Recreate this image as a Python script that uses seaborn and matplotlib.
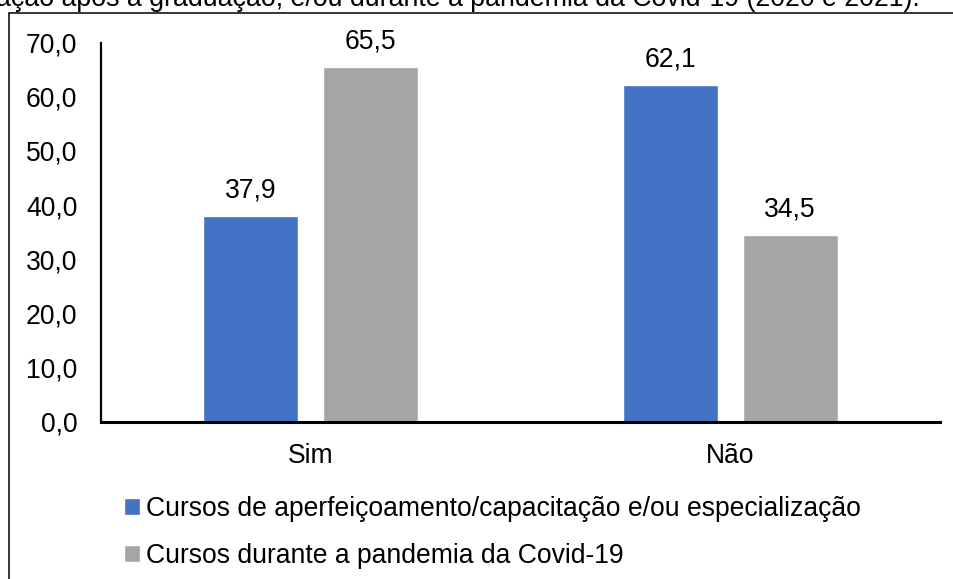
import matplotlib
matplotlib.use("Agg")
import matplotlib.pyplot as plt
import seaborn as sns
import pandas as pd
from matplotlib.lines import Line2D
from matplotlib.ticker import FuncFormatter

categories = ["Sim", "Não"]
series_names = ["Cursos de aperfeiçoamento/capacitação e/ou especialização",
                "Cursos durante a pandemia da Covid-19"]
values_aperf = [37.9, 62.1]
values_pandemia = [65.5, 34.5]
title_visible = "ação após a graduação, e/ou durante a pandemia da Covid-19 (2020 e 2021)."

df = pd.DataFrame({
    "resposta": categories * 2,
    "valor": values_aperf + values_pandemia,
    "serie": [series_names[0]] * 2 + [series_names[1]] * 2,
})

sns.set_theme(style="white")
plt.rcParams["font.family"] = ["Liberation Sans", "DejaVu Sans"]
plt.rcParams["text.color"] = "black"
FS = 19.1

W, H = 954, 579
fig = plt.figure(figsize=(W / 100, H / 100), dpi=100)
ax = fig.add_axes([101 / W, 1 - 421.7 / H, (940 - 101) / W, (421.7 - 42.7) / H])

colors = ["#4472C4", "#A5A5A5"]
sns.barplot(data=df, x="resposta", y="valor", hue="serie", palette=colors,
            saturation=1, width=0.572, gap=0.21, ax=ax, order=categories,
            hue_order=series_names, legend=True)

ax.set_ylim(0, 70)
ax.set_yticks(range(0, 71, 10))
ax.yaxis.set_major_formatter(FuncFormatter(lambda v, p: f"{v:.1f}".replace(".", ",")))
ax.set_xlabel("")
ax.set_ylabel("")
ax.tick_params(axis="y", length=0, pad=17, labelsize=FS, colors="black")
ax.tick_params(axis="x", length=0, pad=15, labelsize=FS, colors="black")

for s in ["top", "right"]:
    ax.spines[s].set_visible(False)
ax.spines["left"].set_color("black")
ax.spines["left"].set_linewidth(1.6)
ax.spines["bottom"].set_color("black")
ax.spines["bottom"].set_linewidth(2.2)

for cont in ax.containers:
    ax.bar_label(cont, labels=[f"{v:.1f}".replace(".", ",") for v in cont.datavalues],
                 padding=9, fontsize=FS, color="black")

handles, labels = ax.get_legend_handles_labels()
leg = ax.legend(handles, labels, loc="upper left", bbox_to_anchor=(124 / W, 1 - 496 / H),
                bbox_transform=fig.transFigure, frameon=False, fontsize=FS,
                handlelength=0.62, handleheight=0.62, handletextpad=0.2,
                labelspacing=0.8, borderaxespad=0, borderpad=0)
for t in leg.get_texts():
    t.set_color("black")

# outer frame lines (partially visible chart border)
fig.add_artist(Line2D([9.5 / W, 1.0], [1 - 12.7 / H, 1 - 12.7 / H],
                      transform=fig.transFigure, color="black", lw=1.1))
fig.add_artist(Line2D([9.5 / W, 9.5 / W], [0, 1 - 12.7 / H],
                      transform=fig.transFigure, color="black", lw=1.1))

# title line, cut off at the top edge as in the reference
fig.text(-4 / W, 1 - 6 / H, title_visible, ha="left", va="baseline",
         fontsize=19.3, color="black")

fig.savefig("out.png", dpi=100)
